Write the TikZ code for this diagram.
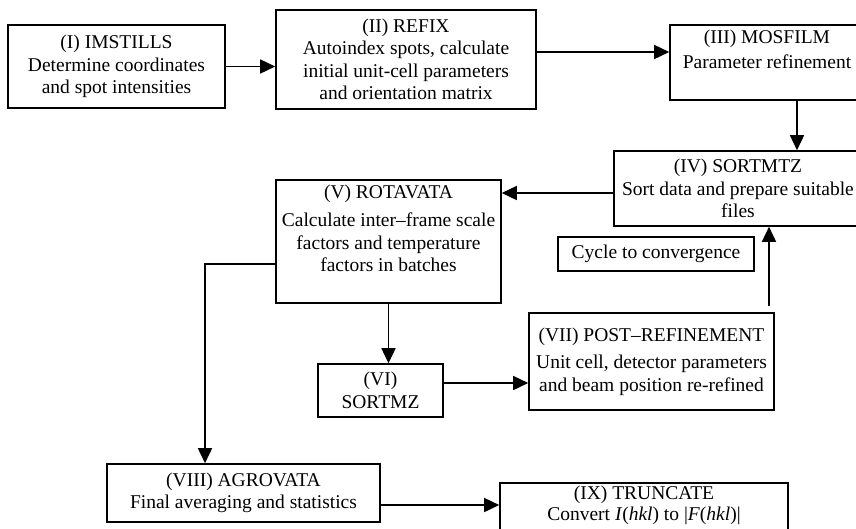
\documentclass[tikz,border=0pt]{standalone}
\usepackage{fontspec}
\setmainfont{Liberation Serif}
\usetikzlibrary{arrows.meta}

\tikzset{
  box/.style={draw, line width=1.6pt, align=center, inner sep=1pt,
    font=\fontsize{19.5}{22.5}\selectfont},
  flow/.style={line width=1.6pt, -{Triangle[length=15pt,width=14pt]}}
}

\begin{document}
\begin{tikzpicture}[x=1pt, y=-1pt]
    \useasboundingbox (0,0) rectangle (856,528);

    % Primera fila
    \node[box, minimum width=217pt, minimum height=83pt] (imstills) at (116.5,66.5)
        {(I) IMSTILLS\\Determine coordinates\\and spot intensities};
    \node[box, minimum width=260pt, minimum height=99pt] (refix) at (406,59.5)
        {(II) REFIX\\Autoindex spots, calculate\\initial unit-cell parameters\\and orientation matrix};
    \node[box, minimum width=194pt, minimum height=75pt] (mosfilm) at (767,62.5)
        {(III) MOSFILM\\[2pt]Parameter refinement\\[4pt]\mbox{}};

    % Ciclo de refinamiento
    \node[box, minimum width=248pt, minimum height=75pt] (sortmtz) at (738,188.5)
        {(IV) SORTMTZ\\Sort data and prepare suitable\\files};
    \node[box, minimum width=225pt, minimum height=123pt] (rotavata) at (388.5,241.5)
        {(V) ROTAVATA\\[6pt]Calculate inter\textendash frame scale\\factors and temperature\\factors in batches\\[4pt]\mbox{}};
    \node[box, minimum width=196pt, minimum height=34pt] (cycle) at (656,254)
        {Cycle to convergence};
    \node[box, minimum width=125pt, minimum height=53pt] (sortmz) at (380.5,390.5)
        {(VI)\\SORTMZ};
    \node[box, minimum width=245pt, minimum height=97pt] (postref) at (651.5,361.5)
        {(VII) POST\textendash REFINEMENT\\[5pt]Unit cell, detector parameters\\and beam position re-refined};

    % Etapa final
    \node[box, minimum width=273pt, minimum height=58pt] (agrovata) at (243.5,493)
        {(VIII) AGROVATA\\Final averaging and statistics};
    \node[box, minimum width=288pt, minimum height=60pt, anchor=north] (truncate) at (644,482)
        {(IX) TRUNCATE\\[-1.5pt]Convert \textit{I}(\textit{hkl}) to |\textit{F}(\textit{hkl})|\\[-4pt]\mbox{}};

    % Flechas
    \draw[flow] (imstills.east) -- (imstills.east -| refix.west);
    \draw[flow] ([yshift=7.5pt]refix.east) -- ([yshift=7.5pt]refix.east -| mosfilm.west);
    \draw[flow] ([xshift=30pt]mosfilm.south) -- ([xshift=30pt]mosfilm.south |- sortmtz.north);
    \draw[flow] ([yshift=-4.5pt]sortmtz.west) -- ([yshift=-4.5pt]sortmtz.west -| rotavata.east);
    \draw[flow] (rotavata.south) -- (rotavata.south |- sortmz.north);
    \draw[flow] ([yshift=7.5pt]sortmz.east) -- ([yshift=7.5pt]sortmz.east -| postref.west);
    \draw[flow] ([xshift=117.5pt, yshift=6pt]postref.north) -- ([xshift=117.5pt]postref.north |- sortmtz.south);
    \draw[flow] ([yshift=-22.5pt]rotavata.west) -| ([xshift=-38.5pt]agrovata.north);
    \draw[flow] ([yshift=-12pt]agrovata.east) -- ([yshift=-12pt]agrovata.east -| truncate.west);

\end{tikzpicture}
\end{document}
